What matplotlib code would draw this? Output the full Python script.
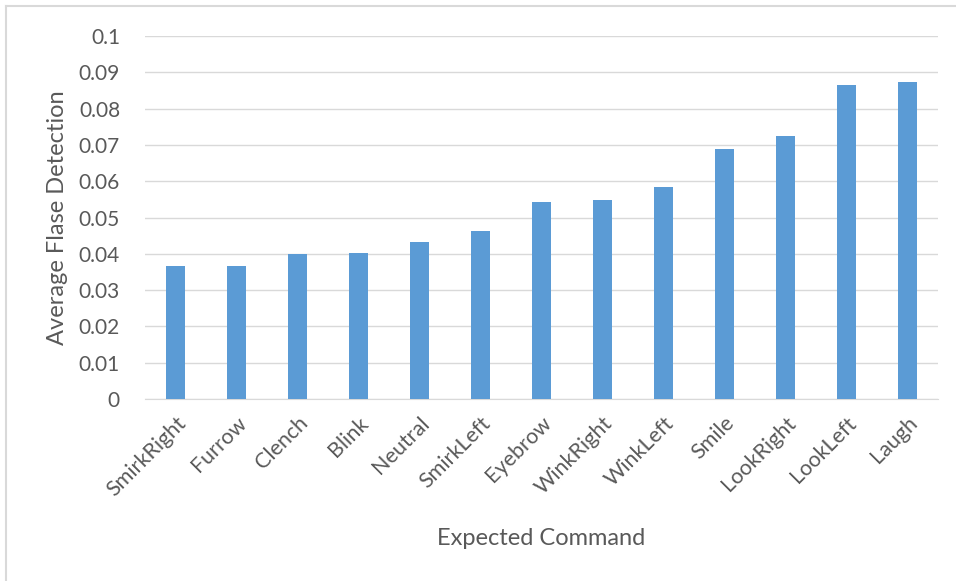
import matplotlib
matplotlib.use('Agg')
import matplotlib.pyplot as plt
from matplotlib.lines import Line2D

# Данные
commands = ['SmirkRight', 'Furrow', 'Clench', 'Blink', 'Neutral', 'SmirkLeft',
            'Eyebrow', 'WinkRight', 'WinkLeft', 'Smile', 'LookRight', 'LookLeft', 'Laugh']
false_detection = [0.0367, 0.0367, 0.0399, 0.0403, 0.0432, 0.0463,
                   0.0544, 0.0547, 0.0583, 0.0690, 0.0725, 0.0866, 0.0872]
y_ticks = [0, 0.01, 0.02, 0.03, 0.04, 0.05, 0.06, 0.07, 0.08, 0.09, 0.1]
y_labels = ['0', '0.01', '0.02', '0.03', '0.04', '0.05', '0.06', '0.07', '0.08', '0.09', '0.1']

plt.rcParams['font.family'] = ['Lato', 'DejaVu Sans']
text_color = '#595959'

fig = plt.figure(figsize=(9.56, 5.81), dpi=100)
ax = fig.add_axes([145 / 956, 1 - 399 / 581, 793 / 956, 363 / 581])

x = range(len(commands))
ax.bar(x, false_detection, width=0.32, color='#5B9BD5', zorder=3)

ax.set_xlim(-0.5, len(commands) - 0.5)
ax.set_ylim(0, 0.1)
ax.set_yticks(y_ticks)
ax.set_yticklabels(y_labels)
ax.set_xticks(list(x))
ax.set_xticklabels(commands, rotation=45, ha='right', rotation_mode='anchor')

ax.grid(axis='y', color='#D9D9D9', linewidth=1, zorder=0)
for side in ['top', 'right', 'left']:
    ax.spines[side].set_visible(False)
ax.spines['bottom'].set_color('#D9D9D9')
ax.tick_params(axis='y', length=0, labelsize=15, colors=text_color, pad=18)
ax.tick_params(axis='x', length=0, labelsize=15.5, colors=text_color, pad=10)

ax.set_ylabel('Average Flase Detection', fontsize=17, color=text_color, labelpad=8)
ax.set_xlabel('Expected Command', fontsize=17, color=text_color, labelpad=20)

# Рамка графика (видна сверху и слева)
fig.add_artist(Line2D([6 / 956, 1], [1 - 6 / 581, 1 - 6 / 581], color='#D9D9D9',
                      linewidth=1.5, transform=fig.transFigure))
fig.add_artist(Line2D([6 / 956, 6 / 956], [0, 1 - 6 / 581], color='#D9D9D9',
                      linewidth=1.5, transform=fig.transFigure))

fig.savefig('out.png', dpi=100, facecolor='white')
